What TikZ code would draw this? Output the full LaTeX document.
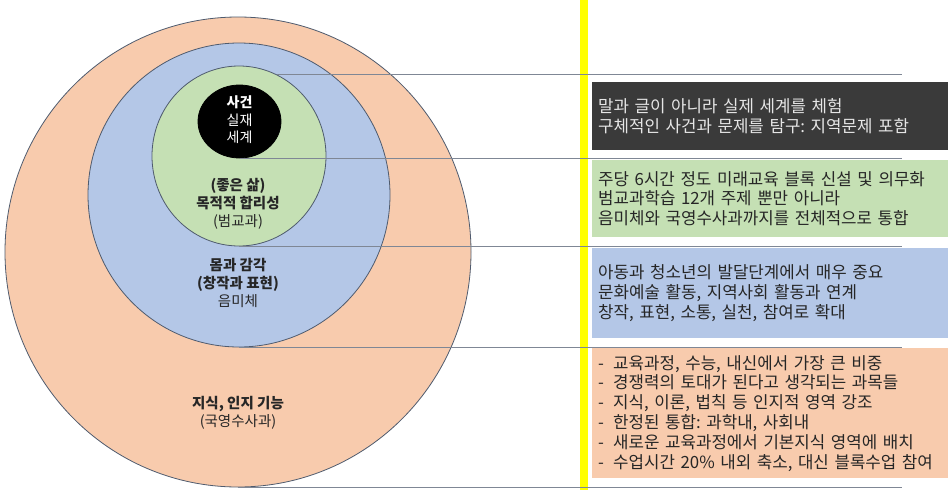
\documentclass[tikz,border=0pt]{standalone}
\usepackage{fontspec}
\setmainfont{Noto Sans CJK KR}
\usetikzlibrary{shapes.geometric}
\definecolor{orangef}{HTML}{F8CBAD}
\definecolor{bluef}{HTML}{B4C7E7}
\definecolor{greenf}{HTML}{C5E0B4}
\definecolor{darkbox}{HTML}{3A3A3A}
\definecolor{ringline}{HTML}{4F5B6E}
\definecolor{leader}{HTML}{7F8795}
\definecolor{txt}{HTML}{262626}
\definecolor{lighttxt}{HTML}{E6E6E6}
\definecolor{barcol}{HTML}{FFFF00}
\newcommand{\boxfont}{\fontsize{16.8}{19.8}\selectfont\frenchspacing}
\tikzset{
  ring/.style={ellipse, draw=ringline, line width=0.8pt, inner sep=0pt},
  lbl/.style={align=center, text=txt, font=\fontsize{14.5}{18}\selectfont, inner sep=0pt},
  leaderline/.style={draw=leader, line width=1.3pt},
  infobox/.style={anchor=north west, minimum width=356pt, text width=344pt,
    inner xsep=6pt, inner ysep=0pt, align=left, font=\boxfont, text=txt},
}
\newcommand{\dashitem}[1]{\makebox[15pt][l]{-}#1}
\begin{document}
\begin{tikzpicture}[x=1pt,y=-1pt]
\useasboundingbox (0,0) rectangle (948,490);
\fill[white] (0,0) rectangle (948,490);
% rings
\node[ring, fill=orangef, minimum width=466pt, minimum height=470pt] (o) at (238,252) {};
\node[ring, fill=bluef, minimum width=302pt, minimum height=304pt] (b) at (239,195) {};
\node[ring, fill=greenf, minimum width=174pt, minimum height=180pt] (g) at (239,156) {};
\node[ring, fill=black, draw=black, minimum width=83pt, minimum height=73pt] (k) at (239.5,121.5) {};
% labels
\node[lbl, text=white, font=\fontsize{14}{17.5}\selectfont] (kl) at (239.5,120) {\textbf{사건}\\실재\\세계};
\node[lbl] (gl) at (238,203.5) {\textbf{(좋은 삶)}\\\textbf{목적적 합리성}\\(범교과)};
\node[lbl] (bl) at (238,282.5) {\textbf{몸과 감각}\\\textbf{(창작과 표현)}\\음미체};
\node[lbl] (ol) at (238,412.5) {\textbf{지식, 인지 기능}\\(국영수사과)};
% yellow bar
\coordinate (bartop) at (584,0);
\coordinate (barbot) at (584,490);
\draw[barcol, line width=8pt] (bartop) -- (barbot);
% leader lines
\coordinate (r) at (902,0);
\draw[leaderline] (g.65) -- (g.65 -| r);
\draw[leaderline] (k.south) -- (k.south -| r);
\draw[leaderline] (g.south) -- (g.south -| r);
\draw[leaderline] (b.south) -- (b.south -| r);
\draw[leaderline] (o.south) -- (o.south -| r);
% boxes
\node[infobox, fill=darkbox, text=lighttxt, minimum height=68pt] (bx1) at (592,82)
  {말과 글이 아니라 실제 세계를 체험\\구체적인 사건과 문제를 탐구: 지역문제 포함};
\node[infobox, fill=greenf, minimum height=77pt] (bx2) at (592,160)
  {주당 6시간 정도 미래교육 블록 신설 및 의무화\\범교과학습 12개 주제 뿐만 아니라\\음미체와 국영수사과까지를 전체적으로 통합};
\node[infobox, fill=bluef, minimum height=90pt] (bx3) at (592,248)
  {아동과 청소년의 발달단계에서 매우 중요\\문화예술 활동, 지역사회 활동과 연계\\창작, 표현, 소통, 실천, 참여로 확대};
\node[infobox, fill=orangef, minimum height=130pt] (bx4) at (592,348)
  {\dashitem{교육과정, 수능, 내신에서 가장 큰 비중}\\
   \dashitem{경쟁력의 토대가 된다고 생각되는 과목들}\\
   \dashitem{지식, 이론, 법칙 등 인지적 영역 강조}\\
   \dashitem{한정된 통합: 과학내, 사회내}\\
   \dashitem{새로운 교육과정에서 기본지식 영역에 배치}\\
   \dashitem{수업시간 20\% 내외 축소, 대신 블록수업 참여}};
\end{tikzpicture}
\end{document}
